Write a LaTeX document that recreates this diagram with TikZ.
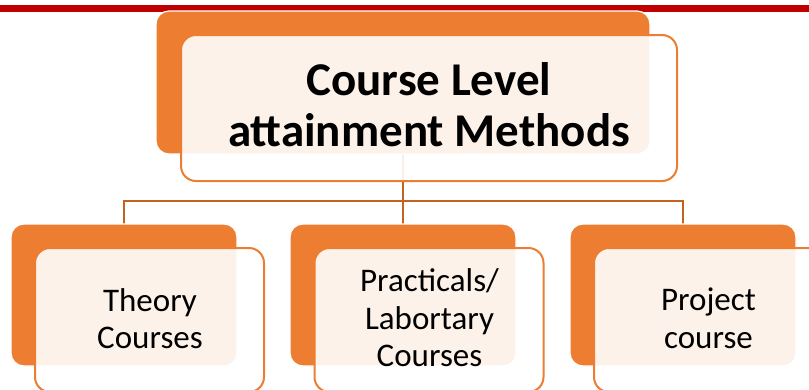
\documentclass[tikz,border=0pt]{standalone}
\usepackage{fontspec}
\setmainfont{Carlito}
\definecolor{accent}{HTML}{ED7D31}
\definecolor{connclr}{HTML}{C4621F}
\definecolor{barred}{HTML}{C00000}
\newcommand\stacklines[1]{\vtop{\halign{\hfil##\hfil\cr#1\crcr}}}
\tikzset{
  backbox/.style={rectangle, rounded corners=13pt, fill=accent, draw=white, line width=1.2pt, inner sep=0pt, outer sep=0pt},
  frontbox/.style={rectangle, rounded corners=15pt, fill=white, fill opacity=0.9, draw=accent, draw opacity=1, line width=2pt, inner sep=0pt, outer sep=0pt},
  conn/.style={draw=connclr, line width=2pt},
  titletext/.style={anchor=base, inner sep=0pt, font=\fontsize{47}{51.7}\selectfont\bfseries},
  leaftext/.style={anchor=base, inner sep=0pt, font=\fontsize{33}{37.5}\selectfont}
}
\begin{document}
\begin{tikzpicture}[x=1pt,y=-1pt]
\useasboundingbox (0,0) rectangle (809,389);
% red bar
\fill[barred] (0,5) rectangle (809,12);
% connectors (drawn first, covered by boxes)
\coordinate (bus) at (0,201);
\coordinate (topc) at (403,82.5);
\coordinate (l1) at (124,295);
\coordinate (l2) at (403,295);
\coordinate (l3) at (683,295);
\draw[conn] (topc) -- (topc |- bus);
\draw[conn] (l1) |- (l3 |- bus) -- (l3);
\draw[conn] (l2 |- bus) -- (l2);
% back boxes
\node[backbox, minimum width=494pt, minimum height=143pt] (topback) at (topc) {};
\node[backbox, minimum width=226pt, minimum height=142pt] (b1back) at (l1) {};
\node[backbox, minimum width=226pt, minimum height=142pt] (b2back) at (l2) {};
\node[backbox, minimum width=226pt, minimum height=142pt] (b3back) at (l3) {};
% front boxes
\node[frontbox, minimum width=496pt, minimum height=146pt] (topfront) at (429,108) {};
\node[frontbox, minimum width=229pt, minimum height=144pt] (b1front) at (149.5,320) {};
\node[frontbox, minimum width=229pt, minimum height=144pt] (b2front) at (429,320) {};
\node[frontbox, minimum width=229pt, minimum height=144pt] (b3front) at (708.5,320) {};
% texts
\node[titletext] (title) at (429,95) {\stacklines{Course Level\cr attainment Methods}};
\node[leaftext] (t1) at (150,311) {\stacklines{Theory\cr Courses}};
\node[leaftext] (t2) at (429.5,291.7) {\stacklines{Practicals/\cr Labortary\cr Courses}};
\node[leaftext] (t3) at (708.5,310.7) {\stacklines{Project\cr course}};
\end{tikzpicture}
\end{document}
